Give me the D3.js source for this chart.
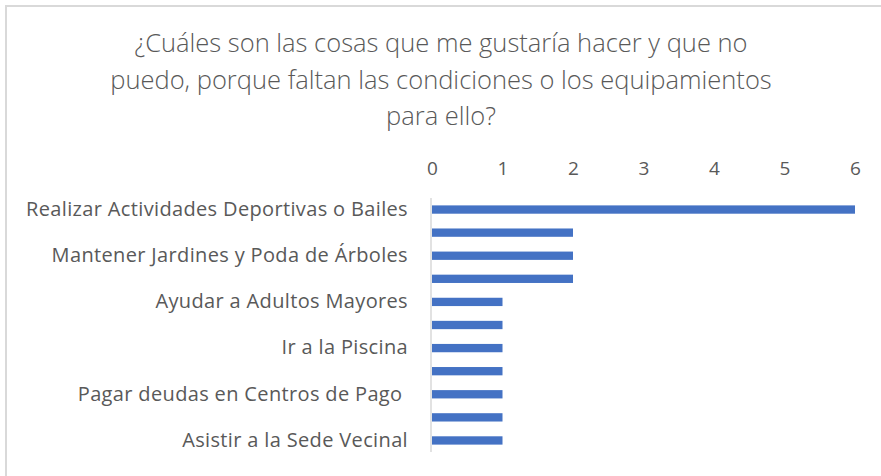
<!DOCTYPE html>
<html>
<head>
<meta charset="utf-8">
<script src="https://cdn.jsdelivr.net/npm/d3@7"></script>
<style>
  html, body { margin: 0; padding: 0; background: #fff; }
  svg { display: block; }
  text { font-family: "Open Sans", "Liberation Sans", sans-serif; fill: #595959; }
</style>
</head>
<body>
<svg id="chart" width="881" height="476"></svg>
<script>
// top to bottom, every second label is not shown in the original
const categories = [
  "Realizar Actividades Deportivas o Bailes",
  "",
  "Mantener Jardines y Poda de Árboles",
  "",
  "Ayudar a Adultos Mayores",
  "",
  "Ir a la Piscina",
  "",
  "Pagar deudas en Centros de Pago ",
  "",
  "Asistir a la Sede Vecinal"
];
const values = [6, 2, 2, 2, 1, 1, 1, 1, 1, 1, 1];
const xTicks = [0, 1, 2, 3, 4, 5, 6];
const titleLines = [
  "¿Cuáles son las cosas que me gustaría hacer y que no",
  "puedo, porque faltan las condiciones o los equipamientos",
  "para ello?"
];

const W = 881, H = 476;
const margin = {top: 198, right: 26, bottom: 24, left: 432};

const svg = d3.select("#chart");

// chart frame (only top and left edges visible in the crop)
svg.append("line").attr("x1", 5).attr("x2", W).attr("y1", 6).attr("y2", 6)
  .attr("stroke", "#d9d9d9").attr("stroke-width", 2);
svg.append("line").attr("x1", 6).attr("x2", 6).attr("y1", 5).attr("y2", H)
  .attr("stroke", "#d9d9d9").attr("stroke-width", 2);

// title
svg.append("g").selectAll("text")
  .data(titleLines)
  .enter().append("text")
  .attr("x", 441)
  .attr("y", (d, i) => 52 + i * 36.5)
  .attr("text-anchor", "middle")
  .style("font-size", "25.5px")
  .style("font-weight", 300)
  .text(d => d);

const x = d3.scaleLinear().domain([0, 6]).range([margin.left, W - margin.right]);
const y = d3.scaleBand()
  .domain(d3.range(categories.length))
  .range([margin.top, H - margin.bottom])
  .paddingInner(0.64)
  .paddingOuter(0.32);

// top axis
const xAxis = d3.axisTop(x).tickValues(xTicks).tickFormat(d3.format("d"))
  .tickSize(0).tickPadding(0);
svg.append("g")
  .attr("transform", "translate(0,175)")
  .call(xAxis)
  .call(g => g.select(".domain").remove())
  .call(g => g.selectAll("text")
    .attr("dy", 0)
    .style("font-size", "19px")
    .attr("fill", "#595959")
    .style("font-family", "\"Open Sans\", sans-serif"));

// category axis line
svg.append("line")
  .attr("x1", x(0) - 1).attr("x2", x(0) - 1)
  .attr("y1", margin.top).attr("y2", H - margin.bottom)
  .attr("stroke", "#d9d9d9").attr("stroke-width", 1.5);

// bars
svg.append("g").selectAll("rect")
  .data(values)
  .enter().append("rect")
  .attr("x", x(0))
  .attr("y", (d, i) => y(i))
  .attr("width", d => x(d) - x(0))
  .attr("height", y.bandwidth())
  .attr("fill", "#4472c4");

// category labels
const yAxis = d3.axisLeft(y).tickSize(0).tickPadding(24)
  .tickFormat(i => categories[i]);
svg.append("g")
  .attr("transform", `translate(${x(0)},0)`)
  .call(yAxis)
  .call(g => g.select(".domain").remove())
  .call(g => g.selectAll("text")
    .style("font-size", "20px")
    .style("letter-spacing", "0.35px")
    .attr("fill", "#595959")
    .style("white-space", "pre")
    .style("font-family", "\"Open Sans\", sans-serif"));
</script>
</body>
</html>
